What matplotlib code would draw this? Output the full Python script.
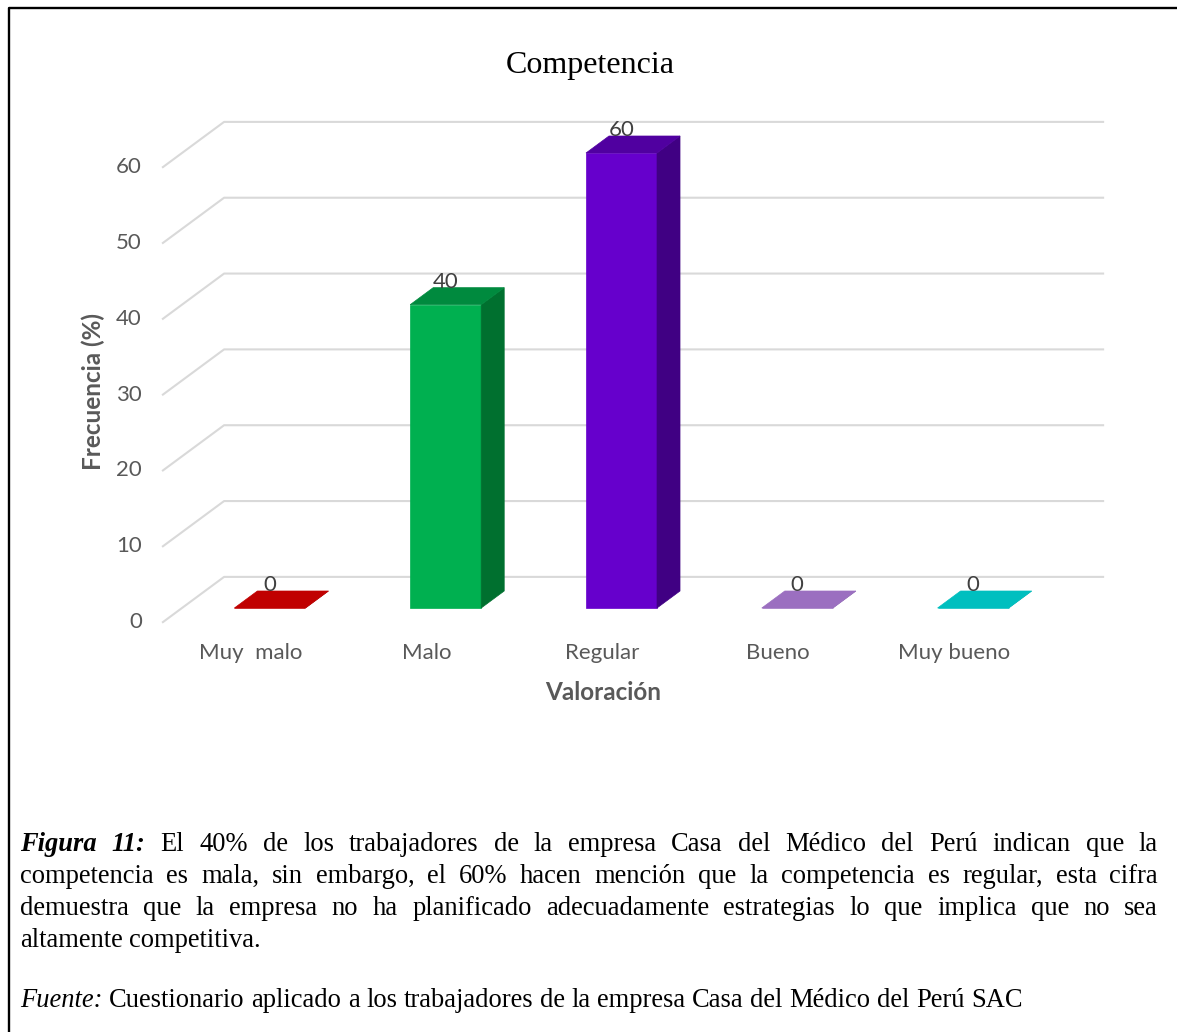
import matplotlib
matplotlib.use("Agg")
import matplotlib.pyplot as plt
import numpy as np
from matplotlib.patches import Polygon
from matplotlib.lines import Line2D
from matplotlib.transforms import IdentityTransform

# Data
categories = ["Muy  malo", "Malo", "Regular", "Bueno", "Muy bueno"]
values = [0, 40, 60, 0, 0]
y_ticks = [0, 10, 20, 30, 40, 50, 60]

front_colors = ["#C00000", "#00B050", "#6600CC", "#9B6FC0", "#00BFBF"]
top_colors = ["#C00000", "#008A3E", "#5000A0", "#9B6FC0", "#00BFBF"]
side_colors = ["#900000", "#00702F", "#400083", "#7A55A0", "#009999"]

title = "Competencia"
x_label = "Valoración"
y_label = "Frecuencia (%)"

caption_lead = "Figura 11:"
caption_lines = [
    "El 40% de los trabajadores de la empresa Casa del Médico del Perú indican que la",
    "competencia es mala, sin embargo, el 60% hacen mención que la competencia es regular, esta cifra",
    "demuestra que la empresa no ha planificado adecuadamente estrategias lo que implica que no sea",
    "altamente competitiva.",
]
source_lead = "Fuente:"
source_text = "Cuestionario aplicado a los trabajadores de la empresa Casa del Médico del Perú SAC"

W, H, DPI = 1177, 1032, 100
SANS = "Lato"
SERIF = "Liberation Serif"
TICK_COLOR = "#595959"

fig = plt.figure(figsize=(W / DPI, H / DPI), dpi=DPI)
ax = fig.add_axes([182 / W, 1 - 608 / H, 879 / W, 455 / H])
ax.set_xlim(-0.5, len(categories) - 0.5)
ax.set_ylim(0, 60)
ax.axis("off")

# oblique 3D: offset (px) of a bar's back face, floor front edge and back wall
DEPTH = np.array([23.0, 17.0])
FLOOR_FRONT = -0.83
BACK_WALL = 1.83
BAR_W = 0.404


def proj(x, v, d=0.0):
    px, py = ax.transData.transform((x, v))
    return px + d * DEPTH[0], py + d * DEPTH[1]


def px_text(x, y, s, **kw):
    # x, y in pixels from the top-left corner
    return fig.text(x / W, 1 - y / H, s, **kw)


# grid: diagonal on the floor side + line along the back wall
for t in y_ticks:
    pts = [proj(-0.5, t, FLOOR_FRONT), proj(-0.5, t, BACK_WALL),
           proj(len(categories) - 0.5, t, BACK_WALL)]
    xs, ys = zip(*pts)
    fig.add_artist(Line2D(xs, ys, transform=IdentityTransform(),
                          color="#D9D9D9", lw=1.5, zorder=1))
    fx, fy = pts[0]
    fig.text(fx - 21, fy, str(t), transform=IdentityTransform(),
             ha="right", va="center", fontsize=16, family=SANS, color=TICK_COLOR)

# bars
for i, v in enumerate(values):
    l, r = i - BAR_W / 2, i + BAR_W / 2
    faces = [
        ([proj(l, 0), proj(r, 0), proj(r, v), proj(l, v)], front_colors[i]),
        ([proj(r, 0), proj(r, 0, 1), proj(r, v, 1), proj(r, v)], side_colors[i]),
        ([proj(l, v), proj(r, v), proj(r, v, 1), proj(l, v, 1)], top_colors[i]),
    ]
    for pts, c in faces:
        fig.add_artist(Polygon(pts, closed=True, transform=IdentityTransform(),
                               facecolor=c, edgecolor=c, lw=0.5, zorder=3))
    lx = proj(i, v)[0]
    ly = proj(i, v, 1)[1]
    fig.text(lx, ly, str(v), transform=IdentityTransform(), ha="center",
             va="baseline", fontsize=16, family=SANS, color="#404040", zorder=4)
    cx, cy = proj(i, 0, FLOOR_FRONT)
    fig.text(cx, cy - 31, categories[i], transform=IdentityTransform(),
             ha="center", va="center", fontsize=16, family=SANS, color=TICK_COLOR)

px_text(603, 692, x_label, ha="center", va="center", fontsize=17.5,
        family=SANS, fontweight="bold", color=TICK_COLOR)
px_text(93, 392, y_label, ha="center", va="center", rotation=90, fontsize=17.5,
        family=SANS, fontweight="bold", color=TICK_COLOR)
px_text(590, 66, title, ha="center", va="center", fontsize=23,
        family=SERIF, color="black")

# caption below the chart, justified like the document text
CAP_SIZE = 19.1
X0, X1 = 20, 1158
renderer = fig.canvas.get_renderer()


def word_width(word, **style):
    t = fig.text(0, 0, word, fontsize=CAP_SIZE, family=SERIF, **style)
    w = t.get_window_extent(renderer).width
    t.remove()
    return w


SPACE = word_width("a a") - 2 * word_width("a")


def set_line(words, y, justify=True):
    widths = [word_width(w, **s) for w, s in words]
    gap = (X1 - X0 - sum(widths)) / (len(words) - 1) if justify else SPACE
    x = X0
    for (w, s), wd in zip(words, widths):
        px_text(x, y, w, ha="left", va="baseline", fontsize=CAP_SIZE,
                family=SERIF, color="black", **s)
        x += wd + gap


lead = {"fontweight": "bold", "fontstyle": "italic"}
plain = {}
baselines = [851, 883, 915, 947]
for n, (line, y) in enumerate(zip(caption_lines, baselines)):
    words = [(w, plain) for w in line.split()]
    if n == 0:
        words = [(w, lead) for w in caption_lead.split()] + words
    set_line(words, y, justify=n < len(caption_lines) - 1)

set_line([(source_lead, {"fontstyle": "italic"})] + [(w, plain) for w in source_text.split()],
         1007, justify=False)

# page frame
fig.add_artist(Line2D([8.5 / W, 8.5 / W, 1], [0, 1 - 7.5 / H, 1 - 7.5 / H],
                      transform=fig.transFigure, color="black", lw=1.7))

fig.savefig("out.png", dpi=DPI)
